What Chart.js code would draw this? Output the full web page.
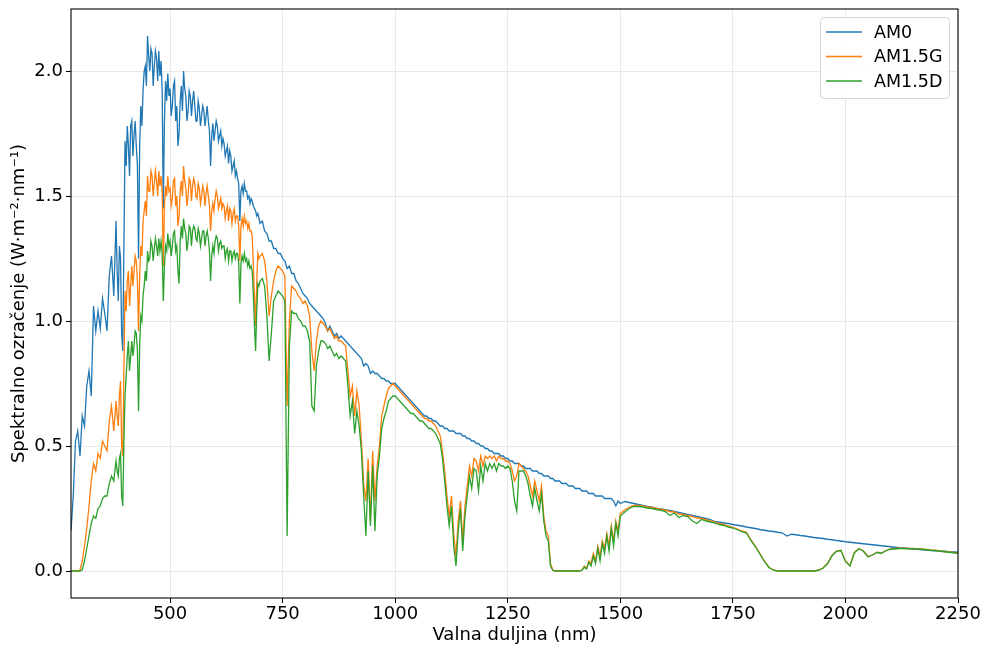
<!DOCTYPE html>
<html>
<head>
<meta charset="utf-8">
<script src="https://cdn.jsdelivr.net/npm/chart.js@4.4.1/dist/chart.umd.min.js"></script>
<style>
  html, body { margin: 0; padding: 0; background: #fff; }
  canvas { display: block; }
</style>
</head>
<body>
<canvas id="c" width="982" height="646"></canvas>
<script>
// Wavelength grid (nm): 5 nm to 375 nm, 2.5 nm through the visible band,
// 5 nm from 700 to 1500 nm, then 10 nm up to 2250 nm
const wavelengths = [
  280,285,290,295,300,305,310,315,320,325,330,335,340,345,350,355,360,365,370,375,
  380,382.5,385,387.5,390,392.5,395,397.5,400,402.5,
  405,407.5,410,412.5,415,417.5,420,422.5,425,427.5,
  430,432.5,435,437.5,440,442.5,445,447.5,450,452.5,
  455,457.5,460,462.5,465,467.5,470,472.5,475,477.5,
  480,482.5,485,487.5,490,492.5,495,497.5,500,502.5,
  505,507.5,510,512.5,515,517.5,520,522.5,525,527.5,
  530,532.5,535,537.5,540,542.5,545,547.5,550,552.5,
  555,557.5,560,562.5,565,567.5,570,572.5,575,577.5,
  580,582.5,585,587.5,590,592.5,595,597.5,600,602.5,
  605,607.5,610,612.5,615,617.5,620,622.5,625,627.5,
  630,632.5,635,637.5,640,642.5,645,647.5,650,652.5,
  655,657.5,660,662.5,665,667.5,670,672.5,675,677.5,
  680,682.5,685,687.5,690,692.5,695,697.5,
  700,705,710,715,720,725,730,735,740,745,750,755,760,765,770,775,
  780,785,790,795,800,805,810,815,820,825,830,835,840,845,850,855,860,865,870,875,
  880,885,890,895,900,905,910,915,920,925,930,935,940,945,950,955,960,965,970,975,
  980,985,990,995,1000,1005,1010,1015,1020,1025,1030,1035,1040,1045,1050,1055,1060,1065,1070,1075,
  1080,1085,1090,1095,1100,1105,1110,1115,1120,1125,1130,1135,1140,1145,1150,1155,1160,1165,1170,1175,
  1180,1185,1190,1195,1200,1205,1210,1215,1220,1225,1230,1235,1240,1245,1250,1255,1260,1265,1270,1275,
  1280,1285,1290,1295,1300,1305,1310,1315,1320,1325,1330,1335,1340,1345,1350,1355,1360,1365,1370,1375,
  1380,1385,1390,1395,1400,1405,1410,1415,1420,1425,1430,1435,1440,1445,1450,1455,1460,1465,1470,1475,
  1480,1485,1490,1495,1500,
  1510,1520,1530,1540,1550,1560,1570,1580,1590,1600,
  1610,1620,1630,1640,1650,1660,1670,1680,1690,1700,
  1710,1720,1730,1740,1750,1760,1770,1780,1790,1800,
  1810,1820,1830,1840,1850,1860,1870,1880,1890,1900,
  1910,1920,1930,1940,1950,1960,1970,1980,1990,2000,
  2010,2020,2030,2040,2050,2060,2070,2080,2090,2100,
  2110,2120,2130,2140,2150,2160,2170,2180,2190,2200,
  2210,2220,2230,2240,2250
];

// Extraterrestrial spectrum (W·m⁻²·nm⁻¹)
const am0 = [
  0.16,0.30,0.52,0.56,0.46,0.62,0.58,0.74,0.80,0.70,1.06,0.96,1.04,0.97,1.09,1.03,0.96,1.18,1.26,1.10,
  1.40,1.20,1.08,1.30,1.25,0.95,0.88,1.30,1.72,1.62,
  1.78,1.70,1.58,1.78,1.80,1.66,1.74,1.80,1.70,1.62,
  1.25,1.70,1.86,1.78,1.92,2.00,2.02,1.94,2.14,2.06,
  2.00,2.09,2.07,1.94,2.02,2.08,2.05,1.96,2.08,1.98,
  2.04,1.92,1.45,1.80,1.96,1.88,1.99,1.90,1.93,1.82,
  1.86,1.94,1.96,1.80,1.86,1.70,1.75,1.88,1.94,1.84,
  2.00,1.93,1.90,1.80,1.84,1.92,1.90,1.82,1.88,1.92,
  1.86,1.80,1.80,1.88,1.85,1.78,1.82,1.86,1.84,1.78,
  1.82,1.86,1.80,1.76,1.62,1.74,1.79,1.72,1.76,1.80,
  1.78,1.72,1.74,1.76,1.70,1.73,1.71,1.66,1.68,1.70,
  1.63,1.68,1.66,1.60,1.62,1.64,1.58,1.60,1.57,1.55,
  1.40,1.52,1.54,1.51,1.55,1.52,1.52,1.49,1.50,1.47,
  1.49,1.48,1.46,1.45,1.44,1.42,1.43,1.41,
  1.39,1.40,1.36,1.35,1.32,1.32,1.29,1.29,1.27,1.27,1.25,1.24,1.21,1.22,1.19,1.19,
  1.16,1.15,1.13,1.11,1.10,1.09,1.07,1.06,1.05,1.04,1.03,1.02,1.01,0.99,0.96,0.98,0.96,0.94,0.95,0.93,
  0.94,0.93,0.92,0.91,0.90,0.89,0.88,0.87,0.86,0.85,0.82,0.83,0.82,0.79,0.80,0.79,0.79,0.78,0.77,0.77,
  0.76,0.76,0.75,0.75,0.75,0.74,0.73,0.72,0.71,0.70,0.69,0.68,0.67,0.66,0.65,0.64,0.63,0.62,0.62,0.61,
  0.61,0.60,0.60,0.59,0.58,0.58,0.57,0.57,0.56,0.56,0.56,0.55,0.55,0.55,0.54,0.54,0.53,0.53,0.52,0.52,
  0.51,0.51,0.50,0.50,0.49,0.49,0.48,0.48,0.47,0.47,0.47,0.46,0.46,0.45,0.45,0.44,0.44,0.43,0.43,0.43,
  0.42,0.42,0.41,0.41,0.41,0.40,0.40,0.40,0.39,0.39,0.38,0.38,0.38,0.37,0.37,0.36,0.36,0.36,0.35,0.35,
  0.35,0.34,0.34,0.34,0.33,0.33,0.33,0.32,0.32,0.32,0.31,0.31,0.31,0.30,0.30,0.30,0.30,0.29,0.29,0.29,
  0.29,0.28,0.26,0.28,0.27,
  0.278,0.274,0.270,0.266,0.262,0.258,0.255,0.251,0.248,0.245,
  0.242,0.238,0.234,0.230,0.226,0.222,0.218,0.214,0.210,0.206,
  0.198,0.195,0.192,0.190,0.186,0.183,0.180,0.176,0.173,0.170,
  0.166,0.163,0.160,0.158,0.155,0.152,0.140,0.147,0.145,0.142,
  0.140,0.137,0.134,0.132,0.130,0.127,0.125,0.122,0.120,0.117,
  0.115,0.113,0.111,0.109,0.107,0.105,0.103,0.101,0.099,0.097,
  0.095,0.093,0.092,0.090,0.088,0.087,0.085,0.084,0.082,0.081,
  0.080,0.079,0.077,0.076,0.075
];

// Global tilted spectrum
const am15g = [
  0,0,0,0,0.004,0.04,0.10,0.17,0.26,0.36,0.43,0.40,0.47,0.45,0.52,0.50,0.48,0.60,0.66,0.56,
  0.68,0.62,0.58,0.70,0.76,0.50,0.46,0.80,1.12,1.04,
  1.16,1.20,1.06,1.14,1.22,1.14,1.20,1.26,1.24,1.16,
  0.96,1.18,1.30,1.26,1.40,1.44,1.48,1.42,1.58,1.52,
  1.52,1.60,1.58,1.50,1.55,1.60,1.56,1.50,1.60,1.54,
  1.58,1.52,1.22,1.46,1.54,1.50,1.58,1.52,1.53,1.46,
  1.49,1.56,1.57,1.46,1.50,1.38,1.42,1.52,1.56,1.50,
  1.62,1.56,1.53,1.46,1.50,1.57,1.56,1.48,1.54,1.57,
  1.55,1.50,1.49,1.55,1.53,1.47,1.50,1.54,1.52,1.46,
  1.51,1.54,1.50,1.46,1.36,1.44,1.47,1.44,1.49,1.52,
  1.50,1.45,1.47,1.49,1.45,1.47,1.46,1.41,1.44,1.46,
  1.40,1.45,1.44,1.39,1.43,1.45,1.40,1.42,1.42,1.38,
  1.24,1.38,1.41,1.38,1.42,1.39,1.40,1.37,1.39,1.36,
  1.36,1.34,1.22,1.10,0.98,1.15,1.27,1.25,
  1.26,1.27,1.24,1.16,1.02,1.10,1.16,1.20,1.22,1.21,1.20,1.18,0.66,1.00,1.14,1.13,
  1.12,1.10,1.09,1.07,1.08,1.06,1.02,0.88,0.80,0.92,0.98,1.00,0.99,0.98,0.96,0.97,0.95,0.93,0.94,0.92,
  0.92,0.91,0.90,0.80,0.70,0.74,0.62,0.72,0.66,0.52,0.35,0.28,0.45,0.20,0.48,0.28,0.42,0.50,0.62,0.66,
  0.70,0.73,0.74,0.75,0.74,0.73,0.72,0.71,0.70,0.69,0.68,0.67,0.66,0.65,0.64,0.63,0.62,0.61,0.61,0.60,
  0.60,0.59,0.58,0.56,0.54,0.48,0.40,0.30,0.22,0.30,0.15,0.06,0.20,0.28,0.12,0.26,0.34,0.42,0.38,0.45,
  0.44,0.40,0.46,0.42,0.46,0.45,0.46,0.45,0.46,0.44,0.46,0.45,0.45,0.44,0.44,0.43,0.40,0.36,0.38,0.43,
  0.42,0.41,0.40,0.38,0.34,0.30,0.36,0.32,0.28,0.34,0.22,0.16,0.14,0.03,0.005,0,0,0,0,0,
  0,0,0,0,0,0,0,0.005,0.02,0.01,0.04,0.03,0.07,0.04,0.10,0.06,0.12,0.09,0.15,0.10,
  0.18,0.12,0.20,0.16,0.23,
  0.245,0.255,0.262,0.262,0.260,0.256,0.254,0.250,0.247,0.243,
  0.238,0.236,0.228,0.226,0.222,0.218,0.212,0.210,0.205,0.200,
  0.196,0.190,0.186,0.180,0.175,0.168,0.160,0.155,0.125,0.100,
  0.070,0.040,0.015,0.004,0,0,0,0,0,0,
  0,0,0,0.003,0.012,0.030,0.062,0.080,0.083,0.040,
  0.022,0.075,0.090,0.080,0.058,0.065,0.075,0.072,0.082,0.088,
  0.090,0.091,0.091,0.090,0.090,0.089,0.088,0.086,0.084,0.083,
  0.080,0.078,0.076,0.074,0.072
];

// Direct + circumsolar spectrum
const am15d = [
  0,0,0,0,0,0.005,0.04,0.09,0.14,0.19,0.22,0.21,0.25,0.26,0.29,0.30,0.30,0.35,0.38,0.36,
  0.44,0.40,0.38,0.45,0.47,0.30,0.26,0.52,0.70,0.78,
  0.86,0.92,0.80,0.86,0.92,0.86,0.90,0.96,0.95,0.88,
  0.64,0.90,1.02,1.00,1.10,1.14,1.20,1.16,1.28,1.24,
  1.25,1.32,1.30,1.24,1.29,1.33,1.30,1.26,1.33,1.28,
  1.32,1.27,1.08,1.22,1.30,1.28,1.35,1.30,1.32,1.26,
  1.30,1.35,1.36,1.28,1.30,1.20,1.15,1.32,1.38,1.33,
  1.41,1.37,1.35,1.28,1.32,1.38,1.37,1.30,1.36,1.38,
  1.37,1.33,1.32,1.37,1.35,1.30,1.33,1.36,1.36,1.30,
  1.34,1.36,1.33,1.28,1.16,1.26,1.30,1.27,1.32,1.34,
  1.33,1.28,1.31,1.32,1.29,1.30,1.30,1.25,1.28,1.29,
  1.24,1.28,1.28,1.24,1.27,1.28,1.25,1.27,1.27,1.23,
  1.07,1.23,1.26,1.24,1.27,1.24,1.25,1.22,1.24,1.21,
  1.22,1.20,1.10,0.98,0.88,1.04,1.15,1.14,
  1.16,1.17,1.14,1.02,0.84,0.95,1.08,1.10,1.12,1.11,1.10,1.08,0.14,0.90,1.04,1.03,
  1.03,1.01,1.00,0.98,0.98,0.96,0.92,0.66,0.64,0.82,0.88,0.92,0.92,0.91,0.89,0.90,0.88,0.86,0.87,0.85,
  0.86,0.85,0.84,0.74,0.62,0.68,0.55,0.64,0.58,0.48,0.30,0.14,0.40,0.18,0.42,0.16,0.38,0.46,0.57,0.61,
  0.64,0.68,0.69,0.70,0.70,0.69,0.68,0.67,0.66,0.65,0.64,0.63,0.63,0.62,0.61,0.60,0.60,0.59,0.58,0.57,
  0.57,0.56,0.55,0.53,0.51,0.45,0.36,0.26,0.18,0.26,0.10,0.02,0.16,0.25,0.08,0.22,0.30,0.38,0.33,0.41,
  0.40,0.32,0.42,0.36,0.43,0.40,0.43,0.41,0.43,0.40,0.43,0.42,0.42,0.41,0.42,0.41,0.36,0.28,0.24,0.40,
  0.40,0.40,0.38,0.35,0.30,0.26,0.33,0.28,0.24,0.31,0.20,0.14,0.12,0.02,0.003,0,0,0,0,0,
  0,0,0,0,0,0,0,0.003,0.015,0.008,0.035,0.02,0.06,0.03,0.09,0.04,0.11,0.07,0.14,0.08,
  0.17,0.10,0.19,0.14,0.22,
  0.236,0.250,0.258,0.258,0.256,0.252,0.250,0.246,0.243,0.238,
  0.222,0.232,0.214,0.222,0.218,0.200,0.190,0.206,0.200,0.196,
  0.192,0.186,0.182,0.176,0.172,0.165,0.157,0.152,0.122,0.097,
  0.068,0.038,0.014,0.003,0,0,0,0,0,0,
  0,0,0,0.003,0.011,0.029,0.060,0.079,0.082,0.038,
  0.020,0.073,0.089,0.079,0.056,0.064,0.074,0.071,0.081,0.087,
  0.089,0.090,0.090,0.089,0.089,0.088,0.087,0.085,0.083,0.082,
  0.079,0.077,0.075,0.073,0.071
];

const seriesNames = ['AM0', 'AM1.5G', 'AM1.5D'];
const seriesColors = ['#1f77b4', '#ff7f0e', '#2ca02c'];
const xTicks = [500, 750, 1000, 1250, 1500, 1750, 2000, 2250];
const yTicks = [0, 0.5, 1.0, 1.5, 2.0];

const FONT_FAMILY = 'DejaVu Sans';
const FONT_SIZE = 18;
const LEGEND_FONT_SIZE = 17.5;

function toPoints(values) {
  return wavelengths.map((w, i) => ({ x: w, y: values[i] }));
}

// Full box frame and an in-plot legend in the upper right corner
const frameAndLegend = {
  id: 'frameAndLegend',
  afterDraw(chart) {
    const { ctx, chartArea: a } = chart;
    ctx.save();
    ctx.strokeStyle = '#000';
    ctx.lineWidth = 1.1;
    ctx.strokeRect(a.left, a.top, a.right - a.left, a.bottom - a.top);

    const bx = 820.5, by = 17.5, bw = 129, bh = 81;
    ctx.beginPath();
    ctx.roundRect(bx, by, bw, bh, 4);
    ctx.fillStyle = 'rgba(255,255,255,0.85)';
    ctx.fill();
    ctx.strokeStyle = '#d6d6d6';
    ctx.lineWidth = 1;
    ctx.stroke();

    ctx.font = LEGEND_FONT_SIZE + 'px "' + FONT_FAMILY + '"';
    ctx.textBaseline = 'middle';
    ctx.textAlign = 'left';
    const rowY = [32, 56.5, 81];
    seriesNames.forEach((name, i) => {
      ctx.strokeStyle = seriesColors[i];
      ctx.lineWidth = 1.3;
      ctx.beginPath();
      ctx.moveTo(826, rowY[i]);
      ctx.lineTo(862, rowY[i]);
      ctx.stroke();
      ctx.fillStyle = '#000';
      ctx.fillText(name, 874, rowY[i] + 1);
    });
    ctx.restore();
  }
};

const values = [am0, am15g, am15d];

new Chart(document.getElementById('c'), {
  type: 'line',
  data: {
    datasets: seriesNames.map((name, i) => ({
      label: name,
      data: toPoints(values[i]),
      borderColor: seriesColors[i],
      backgroundColor: seriesColors[i],
      borderWidth: 1.3,
      pointRadius: 0,
      tension: 0,
      fill: false,
      order: 3 - i
    }))
  },
  options: {
    responsive: false,
    animation: false,
    devicePixelRatio: 1,
    layout: { padding: { top: 9, right: 24, bottom: 0, left: 0 } },
    plugins: {
      legend: { display: false },
      tooltip: { enabled: false }
    },
    scales: {
      x: {
        type: 'linear',
        min: 280,
        max: 2250,
        afterBuildTicks(scale) { scale.ticks = xTicks.map(v => ({ value: v })); },
        afterFit(scale) { scale.height = 48; },
        ticks: {
          color: '#000',
          font: { family: FONT_FAMILY, size: FONT_SIZE },
          padding: 1,
          maxRotation: 0,
          autoSkip: false,
          callback: v => String(v)
        },
        grid: { color: '#e8e8e8', lineWidth: 1, tickColor: '#000', tickLength: 5, tickWidth: 1 },
        border: { display: false },
        title: {
          display: true,
          text: 'Valna duljina (nm)',
          color: '#000',
          font: { family: FONT_FAMILY, size: FONT_SIZE },
          padding: { top: 0, bottom: 0 }
        }
      },
      y: {
        type: 'linear',
        min: -0.108,
        max: 2.248,
        afterBuildTicks(scale) { scale.ticks = yTicks.map(v => ({ value: v })); },
        afterFit(scale) {
          scale.width = 71;
          scale.paddingTop = 0;
          scale.paddingBottom = 0;
        },
        ticks: {
          color: '#000',
          font: { family: FONT_FAMILY, size: FONT_SIZE },
          padding: 3,
          callback: v => v.toFixed(1)
        },
        grid: { color: '#e8e8e8', lineWidth: 1, tickColor: '#000', tickLength: 5, tickWidth: 1 },
        border: { display: false },
        title: {
          display: true,
          text: 'Spektralno ozračenje (W·m⁻²·nm⁻¹)',
          color: '#000',
          font: { family: FONT_FAMILY, size: FONT_SIZE },
          padding: { top: 9, bottom: 0 }
        }
      }
    }
  },
  plugins: [frameAndLegend]
});
</script>
</body>
</html>
